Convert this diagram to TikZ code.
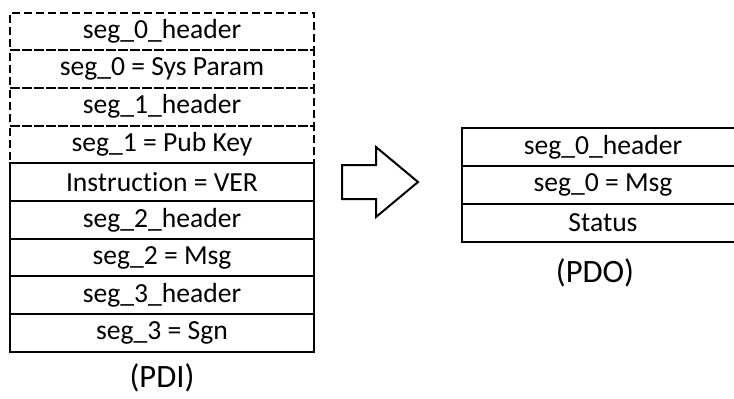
\documentclass[tikz,border=0pt]{standalone}
\usepackage{fontspec}
\setmainfont{Carlito}[Ligatures={TeX,NoCommon}]
\begin{document}
\begin{tikzpicture}[x=0.5pt,y=-0.5pt,
  cell/.style={draw, line width=1pt, rectangle, inner sep=0pt, outer sep=0pt,
    minimum height=18.85pt, font=\fontsize{13.8}{16}\selectfont},
  leftcell/.style={cell, minimum width=152pt},
  rightcell/.style={cell, minimum width=141pt},
  optcell/.style={dash pattern=on 4pt off 2pt},
  caption/.style={font=\fontsize{16.3}{19}\selectfont, inner sep=0pt}]
\useasboundingbox (0,0) rectangle (734,398);
\clip (0,0) rectangle (734,398);
% input frame (PDI): optional fields dashed, mandatory fields solid
\foreach \t [count=\i] in {seg\_0\_header, {seg\_0 = Sys Param}, seg\_1\_header, {seg\_1 = Pub Key}}
  \node[leftcell, optcell] (in\i) at (162, 12.5+37.7*\i-18.85) {\t};
\foreach \t [count=\i from 5] in {{Instruction = VER}, seg\_2\_header, {seg\_2 = Msg}, seg\_3\_header, {seg\_3 = Sgn}}
  \node[leftcell] (in\i) at (162, 12.5+37.7*\i-18.85) {\t};
\node[caption] (pdi) at (162, 378) {(PDI)};
% output frame (PDO)
\foreach \t [count=\i] in {seg\_0\_header, {seg\_0 = Msg}, Status}
  \node[rightcell] (out\i) at (603, 128.3+37.8*\i-18.9) {\t};
\node[caption] (pdo) at (595, 273) {(PDO)};
% block arrow
\draw[line width=1pt, line join=miter]
  (342,165) -- (376,165) -- (376,147) -- (418,182) -- (376,217) -- (376,199) -- (342,199) -- cycle;
\end{tikzpicture}
\end{document}
